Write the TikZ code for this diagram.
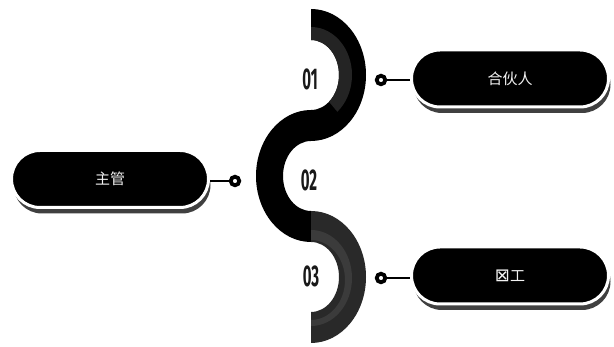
\documentclass[tikz,border=0pt]{standalone}
\usepackage{fontspec}
\usepackage{graphicx}
\usetikzlibrary{calc,shapes.misc}
\newfontfamily\cjkfont{Noto Sans CJK SC}
\newfontfamily\symfont{DejaVu Sans}
\newfontfamily\numfont{Fira Sans}
\begin{document}
\begin{tikzpicture}[x=1pt,y=1pt,
  pill/.style={rounded rectangle, minimum width=197pt, minimum height=57pt, fill=black, draw=white, line width=3pt, inner sep=0pt, text=white!90!gray, font=\cjkfont\fontsize{15}{15}\selectfont},
  pillshadow/.style={rounded rectangle, minimum width=197pt, minimum height=57pt, fill=black!75, inner sep=0pt},
  ring/.style={circle, draw=black, fill=white, line width=3.8pt, minimum size=8.5pt, inner sep=0pt},
  link/.style={draw=black, line width=2.8pt},
  numlab/.style={text=black!90, font=\numfont\bfseries\fontsize{30}{30}\selectfont}
]
\useasboundingbox (0,0) rectangle (614,347);
\fill[white] (0,0) rectangle (614,347);

% S-shaped band
\def\Rx{55}\def\Ry{66}\def\rx{28}\def\ry{35}
% top arc (right half)
\fill[black] (311,338) arc[start angle=90,end angle=-90,x radius=\Rx,y radius=\Ry] -- (311,237)
  arc[start angle=-90,end angle=90,x radius=\rx,y radius=\ry] -- cycle;
\fill[black!86] (311,307) arc[start angle=90,end angle=-50,x radius=\rx,y radius=\ry]
  -- ($(311,272)+(-50:41 and 48)$) arc[start angle=-50,end angle=90,x radius=41,y radius=48] -- cycle;
% middle arc (left half)
\fill[black] (311,237) arc[start angle=90,end angle=270,x radius=\Rx,y radius=\Ry] -- (311,136)
  arc[start angle=270,end angle=90,x radius=\rx,y radius=\ry] -- cycle;
% bottom arc (right half)
\fill[black!84] (311,136) arc[start angle=90,end angle=-90,x radius=\Rx,y radius=\Ry] -- (311,35)
  arc[start angle=-90,end angle=90,x radius=\rx,y radius=\ry] -- cycle;
\fill[black!77] (311,117) arc[start angle=90,end angle=-90,x radius=41,y radius=48] -- (311,27)
  arc[start angle=-90,end angle=90,x radius=34,y radius=40] -- cycle;

\node[numlab] (n1) at (310,268) {\scalebox{0.5}[1]{01}};
\node[numlab] (n2) at (309,167) {\scalebox{0.5}[1]{02}};
\node[numlab] (n3) at (311,71) {\scalebox{0.5}[1]{03}};

% pills
\node[pillshadow] (s1) at (512,262.5) {};
\node[pill] (p1) at (510,268.5) {合伙人};
\node[pillshadow] (s2) at (112,162) {};
\node[pill] (p2) at (110,168) {主管};
\node[pillshadow] (s3) at (512,65.5) {};
\node[pill] (p3) at (510,71.5) {{\symfont\fontsize{18}{18}\selectfont ⊠}工};

% connectors
\node[ring] (c1) at (381,267) {};
\node[ring] (c2) at (235,166) {};
\node[ring] (c3) at (381,69) {};
\draw[link] (c1.east) -- (c1.east -| p1.west);
\draw[link] (c2.west) -- (c2.west -| p2.east);
\draw[link] (c3.east) -- (c3.east -| p3.west);
\end{tikzpicture}
\end{document}
